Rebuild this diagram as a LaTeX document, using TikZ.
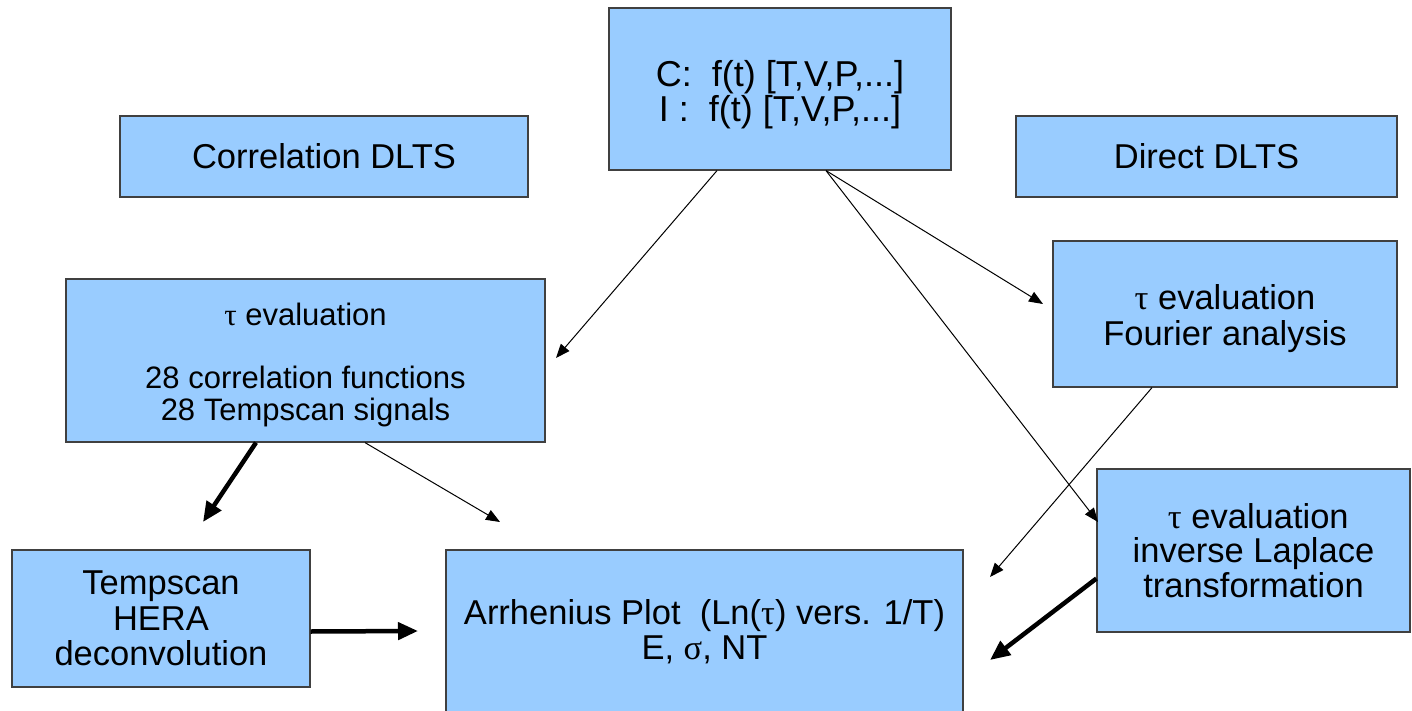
\documentclass[tikz,border=0pt]{standalone}
\usepackage{fontspec}
\setmainfont{Liberation Sans}
\newfontfamily\grk{Liberation Serif}
\newcommand{\mytau}{{\grk τ}}
\newcommand{\mysig}{{\grk σ}}
\usetikzlibrary{arrows.meta}
\definecolor{boxblue}{HTML}{99CCFF}
\begin{document}
\begin{tikzpicture}[x=1pt,y=-1pt,
  box/.style={draw=black!75, line width=1.2pt, fill=boxblue, inner sep=0pt, align=center, font=\fontsize{34.5}{35}\selectfont},
  thinarrow/.style={-{Triangle[length=14pt,width=11pt]}, line width=1pt},
  thickarrow/.style={-{Triangle[length=20pt,width=17pt]}, line width=4.5pt}]
\clip (0,0) rectangle (1412,711);
\fill[white] (0,0) rectangle (1412,711);

\node[box, minimum width=342pt, minimum height=162pt, font=\fontsize{36}{30}\selectfont] (src) at (780,89)
  {\rule{0pt}{37pt}C:\ \ f(t) [T,V,P,...]\\ I :\ \ f(t) [T,V,P,...]};
\node[box, minimum width=408pt, minimum height=81pt] (corr) at (324,156.5) {Correlation DLTS};
\node[box, minimum width=381pt, minimum height=81pt] (direct) at (1206.5,156.5) {Direct DLTS};
\node[box, minimum width=479pt, minimum height=163pt, font=\fontsize{31}{32}\selectfont] (tauL) at (305.5,360.5)
  {\rule{0pt}{31pt}\mytau\ evaluation\\[31pt]28 correlation functions\\28 Tempscan signals};
\node[box, minimum width=344pt, minimum height=146pt, font=\fontsize{34.5}{36}\selectfont] (four) at (1225,314)
  {\rule{0pt}{35pt}\mytau\ evaluation\\Fourier analysis};
\node[box, minimum width=313pt, minimum height=163pt, font=\fontsize{34.5}{34.5}\selectfont] (lap) at (1253.5,550.5)
  {\ \mytau\ evaluation\\inverse Laplace\\transformation};
\node[box, minimum width=298pt, minimum height=137pt, font=\fontsize{34.5}{35.5}\selectfont] (temp) at (161,618.5)
  {Tempscan\\HERA\\deconvolution};
\node[box, minimum width=517pt, minimum height=164pt] (arr) at (704.5,632)
  {Arrhenius Plot\ \ (Ln(\mytau) vers. 1/T)\\E, \mysig, NT};

\coordinate (e1) at (556,358);
\coordinate (e2) at (1043,304);
\coordinate (e3) at (1098,522);
\coordinate (e4) at (500,522);
\coordinate (e5) at (203,522);
\coordinate (e6) at (990,577);
\coordinate (e7) at (418,631);
\coordinate (e8) at (990,660);

\draw[thinarrow] ([xshift=-63pt]src.south) -- (e1);
\draw[thinarrow] ([xshift=46pt]src.south) -- (e2);
\draw[thinarrow] ([xshift=46pt]src.south) -- (e3);
\draw[thinarrow] ([xshift=59.5pt]tauL.south) -- (e4);
\draw[thickarrow] ([xshift=-49.5pt]tauL.south) -- (e5);
\draw[thinarrow] ([xshift=-73pt]four.south) -- (e6);
\draw[thickarrow] ([yshift=-13pt]temp.east) -- (e7);
\draw[thickarrow] ([yshift=-28pt]lap.west) -- (e8);
\end{tikzpicture}
\end{document}
